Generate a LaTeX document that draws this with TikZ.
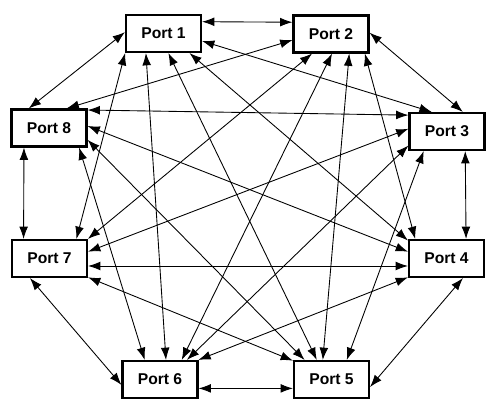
\documentclass[tikz,border=0pt]{standalone}
\usepackage{fontspec}
\setmainfont{Liberation Sans}
\usepackage{tikz}
\usetikzlibrary{arrows.meta}

\begin{document}
\begin{tikzpicture}[x=0.02cm,y=-0.02cm,
    port/.style={draw,line width=1.2pt,minimum width=1.5cm,minimum height=0.74cm,
      inner sep=0pt,font=\fontsize{8.9}{10}\selectfont\bfseries},
    link/.style={line width=0.5pt,{Latex[length=7pt,width=5pt]}-{Latex[length=7pt,width=5pt]}}]
        \useasboundingbox (0,0) rectangle (496,411);
        % Draw the eight ports
        \node[port] (p1) at (163.5,33.5) {Port 1};
        \node[port] (p2) at (331,34) {Port 2};
        \node[port] (p3) at (447,131.5) {Port 3};
        \node[port] (p4) at (446.5,258.5) {Port 4};
        \node[port] (p5) at (331.5,379.5) {Port 5};
        \node[port] (p6) at (160,379.5) {Port 6};
        \node[port] (p7) at (49.5,258.5) {Port 7};
        \node[port] (p8) at (49,128) {Port 8};
        % Every port is linked to every other one
        \foreach \a/\b in {p1.17/p2.163, p1.-11/p3.128, p1.-37/p4.155, p1.-76/p5.127,
            p1.228/p6.73, p1.207/p7.36, p1.178/p8.136}
          \draw[link] (\a) -- (\b);
        \foreach \a/\b in {p2.2/p3.51, p2.-30/p4.148, p2.-47/p5.114, p2.-87/p6.42,
            p2.226/p7.27, p2.189/p8.48}
          \draw[link] (\a) -- (\b);
        \foreach \a/\b in {p3.-47/p4.45, p3.220/p5.52, p3.200/p6.36, p3.176/p7.10,
            p3.157/p8.25}
          \draw[link] (\a) -- (\b);
        \foreach \a/\b in {p4.-50/p5.-11, p4.206/p6.27, p4.191/p7.-11, p4.170/p8.3}
          \draw[link] (\a) -- (\b);
        \foreach \a/\b in {p5.193/p6.-13, p5.154/p7.-26, p5.144/p8.-17}
          \draw[link] (\a) -- (\b);
        \draw[link] (p6.188) -- (p7.225);
        \draw[link] (p6.128) -- (p8.-33);
        \draw[link] (p7.143) -- (p8.218);
      \end{tikzpicture}
\end{document}
